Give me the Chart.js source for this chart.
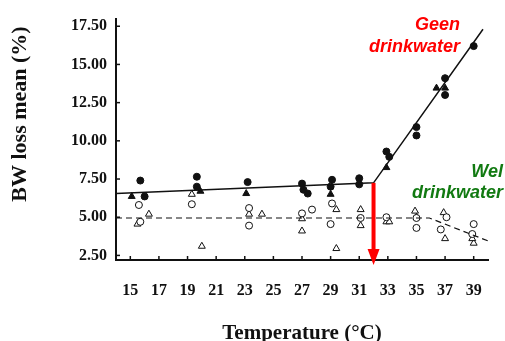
<!DOCTYPE html>
<html>
<head>
<meta charset="utf-8">
<script src="https://cdn.jsdelivr.net/npm/chart.js@4"></script>
<style>
  html, body { margin: 0; padding: 0; background: #fff; }
  #wrap { width: 505px; height: 341px; }
</style>
</head>
<body>
<div id="wrap"><canvas id="grafico"></canvas></div>
<script>
// tick labels
var xTicks = [15, 17, 19, 21, 23, 25, 27, 29, 31, 33, 35, 37, 39];
var yTicks = [2.5, 5, 7.5, 10, 12.5, 15, 17.5];

// gesloten cirkels
var fcX = [15.7, 16.0, 19.65, 19.65, 23.2, 27.0, 27.1, 27.4, 29.1, 29.0, 31.0, 31.0, 32.9, 33.1, 35.0, 35.0, 37.0, 37.0, 39.0];
var fcY = [7.4, 6.36, 7.65, 7.0, 7.3, 7.2, 6.8, 6.55, 7.45, 7.0, 7.55, 7.15, 9.3, 8.95, 10.9, 10.35, 14.1, 13.0, 16.2];
// gesloten driehoeken
var ftX = [15.1, 19.9, 23.1, 29.0, 32.9, 36.4, 37.0];
var ftY = [6.36, 6.7, 6.55, 6.5, 8.25, 13.45, 13.45];
// open cirkels
var ocX = [15.6, 15.7, 19.3, 23.3, 23.3, 27.0, 27.7, 29.1, 29.0, 31.1, 32.9, 35.0, 35.0, 37.1, 36.7, 39.0, 38.9];
var ocY = [5.8, 4.7, 5.85, 5.6, 4.45, 5.25, 5.5, 5.9, 4.55, 4.95, 5.0, 4.95, 4.3, 5.0, 4.2, 4.55, 3.9];
// open driehoeken
var otX = [15.5, 16.3, 19.3, 20.0, 23.3, 24.2, 27.0, 27.0, 29.4, 29.4, 31.1, 31.1, 32.9, 33.1, 34.9, 35.0, 36.9, 37.0, 39.0, 38.9];
var otY = [4.55, 5.2, 6.5, 3.1, 5.2, 5.2, 4.9, 4.1, 5.5, 2.95, 5.5, 4.45, 4.7, 4.7, 5.4, 5.0, 5.3, 3.6, 3.3, 3.6];

// trendlijnen
var solidX = [14, 32, 39.65];
var solidY = [6.55, 7.25, 17.3];
var dashX = [14, 35.9, 40];
var dashY = [4.95, 4.95, 3.45];

// pijl bij het breekpunt
var arrowX = 32;
var arrowTop = 7.25;

function punten(xs, ys) {
  return xs.map(function (x, i) { return { x: x, y: ys[i] }; });
}

var serif = "'Liberation Serif', 'Times New Roman', serif";
var sans = "'Liberation Sans', Arial, sans-serif";

// tekst, pijl en binnenste streepjes
var extras = {
  id: 'extras',
  afterDraw: function (chart) {
    var ctx = chart.ctx;
    var xs = chart.scales.x, ys = chart.scales.y;
    var area = chart.chartArea;

    ctx.save();
    ctx.strokeStyle = '#111';
    ctx.lineWidth = 1.5;
    xTicks.forEach(function (v) {
      var px = xs.getPixelForValue(v);
      ctx.beginPath(); ctx.moveTo(px, area.bottom); ctx.lineTo(px, area.bottom - 4); ctx.stroke();
    });
    yTicks.forEach(function (v) {
      var py = ys.getPixelForValue(v);
      ctx.beginPath(); ctx.moveTo(area.left, py); ctx.lineTo(area.left + 4, py); ctx.stroke();
    });

    // pijl
    var ax = xs.getPixelForValue(arrowX);
    var ay = ys.getPixelForValue(arrowTop);
    var tip = area.bottom + 5;
    ctx.strokeStyle = '#ff0000';
    ctx.fillStyle = '#ff0000';
    ctx.lineWidth = 4;
    ctx.beginPath(); ctx.moveTo(ax, ay); ctx.lineTo(ax, tip - 14); ctx.stroke();
    ctx.beginPath(); ctx.moveTo(ax - 6, tip - 16); ctx.lineTo(ax + 6, tip - 16); ctx.lineTo(ax, tip); ctx.closePath(); ctx.fill();

    // labels
    ctx.font = 'italic bold 18px ' + sans;
    ctx.textAlign = 'right';
    ctx.textBaseline = 'middle';
    ctx.fillStyle = '#ff0000';
    ctx.fillText('Geen', 460, 25);
    ctx.fillText('drinkwater', 460, 47);
    ctx.fillStyle = '#127a12';
    ctx.fillText('Wel', 503, 172);
    ctx.fillText('drinkwater', 503, 193);

    // y-as titel
    ctx.fillStyle = '#111';
    ctx.font = 'bold 22px ' + serif;
    ctx.textAlign = 'center';
    ctx.translate(20, 114);
    ctx.rotate(-Math.PI / 2);
    ctx.fillText('BW loss mean (%)', 0, 0);
    ctx.restore();
  }
};

document.addEventListener("DOMContentLoaded", function () {
  var ctx = document.getElementById('grafico');

  new Chart(ctx, {
    type: 'scatter',
    data: {
      datasets: [
        { data: punten(solidX, solidY), showLine: true, borderColor: '#111', borderWidth: 1.5, pointRadius: 0, fill: false },
        { data: punten(dashX, dashY), showLine: true, borderColor: '#111', borderWidth: 1.2, borderDash: [6, 4], pointRadius: 0, fill: false },
        { data: punten(fcX, fcY), pointStyle: 'circle', pointRadius: 3.5, backgroundColor: '#111', borderColor: '#111', borderWidth: 1 },
        { data: punten(ftX, ftY), pointStyle: 'triangle', pointRadius: 4, backgroundColor: '#111', borderColor: '#111', borderWidth: 1 },
        { data: punten(ocX, ocY), pointStyle: 'circle', pointRadius: 3.5, backgroundColor: '#fff', borderColor: '#111', borderWidth: 1 },
        { data: punten(otX, otY), pointStyle: 'triangle', pointRadius: 4, backgroundColor: '#fff', borderColor: '#111', borderWidth: 1 }
      ]
    },
    options: {
      responsive: true,
      maintainAspectRatio: false,
      animation: false,
      layout: { padding: { top: 12, right: 17, left: 0, bottom: 0 } },
      plugins: { legend: { display: false }, tooltip: { enabled: false } },
      scales: {
        x: {
          type: 'linear',
          min: 14,
          max: 40,
          afterBuildTicks: function (scale) { scale.ticks = xTicks.map(function (v) { return { value: v }; }); },
          afterFit: function (scale) { scale.height = 81; },
          grid: { display: true, drawOnChartArea: false, drawTicks: false },
          border: { display: true, color: '#111', width: 2 },
          ticks: {
            color: '#111',
            padding: 21,
            maxRotation: 0,
            font: { family: serif, size: 16, weight: 'bold' }
          },
          title: {
            display: true,
            text: 'Temperature (°C)',
            color: '#111',
            padding: { top: 0, bottom: 0 },
            font: { family: serif, size: 21, weight: 'bold', lineHeight: 0.68 }
          }
        },
        y: {
          min: 2.2,
          max: 18,
          afterBuildTicks: function (scale) { scale.ticks = yTicks.map(function (v) { return { value: v }; }); },
          afterFit: function (scale) { scale.width = 116; },
          grid: { display: true, drawOnChartArea: false, drawTicks: false },
          border: { display: true, color: '#111', width: 2 },
          ticks: {
            color: '#111',
            padding: 9,
            font: { family: serif, size: 16, weight: 'bold' },
            callback: function (v) { return v.toFixed(2); }
          }
        }
      }
    },
    plugins: [extras]
  });
});
</script>
</body>
</html>
